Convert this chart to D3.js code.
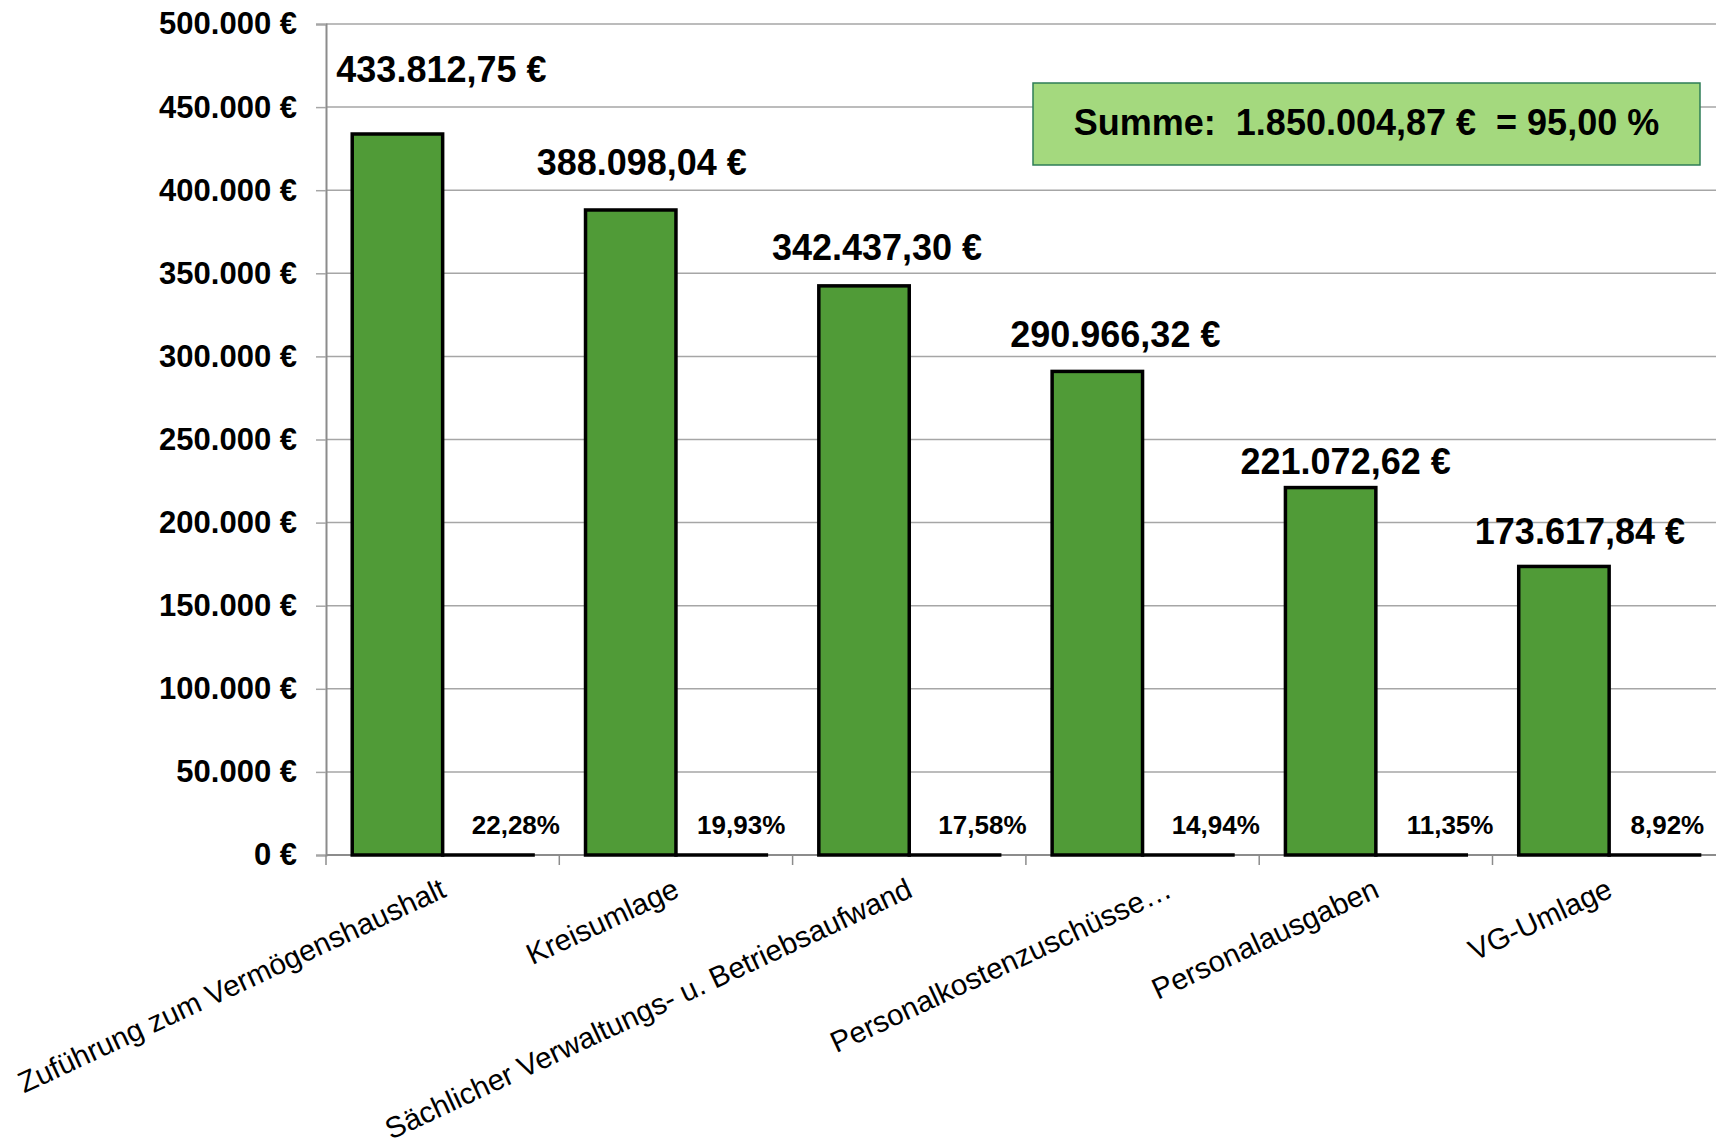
<!DOCTYPE html>
<html>
<head>
	<meta charset="utf-8">
	<title></title>
	<script src="https://d3js.org/d3.v7.min.js"></script>
	<style>
	body {margin: 0; background-color: #ffffff;}
	svg {display: block; font-family: "Liberation Sans", Arial, sans-serif;}
	</style>
</head>
<body>
	<script>

		// chart data
		var categories = ["Zuführung zum Vermögenshaushalt", "Kreisumlage", "Sächlicher Verwaltungs- u. Betriebsaufwand",
			"Personalkostenzuschüsse…", "Personalausgaben", "VG-Umlage"];
		var amounts = [433812.75, 388098.04, 342437.30, 290966.32, 221072.62, 173617.84];
		var shares = [0.2228, 0.1993, 0.1758, 0.1494, 0.1135, 0.0892];
		var yTicks = [0, 50000, 100000, 150000, 200000, 250000, 300000, 350000, 400000, 450000, 500000];

		// hand placed labels in the original (dx, dy from bar top)
		var amountNudge = [[44, 52], [11, 35], [13, 26], [18, 24], [15, 14], [16, 22]];
		var shareNudge = [28, 20, 28, 28, 29, 13];
		var catNudge = [0, 0, 0, 26, 0, 0];

		var width = 1716;
		var height = 1141;
		var plotLeft = 326, plotTop = 24, plotBottom = 855;

		var de = d3.formatLocale({decimal: ",", thousands: ".", grouping: [3], currency: ["", " €"]});
		var fmtTick = de.format("$,.0f");
		var fmtAmount = de.format("$,.2f");
		var fmtShare = de.format(".2%");

		var svg = d3.select("body")
			.append("svg")
			.attr("width", width)
			.attr("height", height);

		var x = d3.scaleBand()
			.domain(categories)
			.range([plotLeft, plotLeft + 6 * 233.3])
			.padding(0);

		var inner = d3.scaleBand()
			.domain(["amount", "share"])
			.range([0, x.bandwidth()])
			.paddingInner(0)
			.paddingOuter(0.29);

		var y = d3.scaleLinear()
			.domain([0, 500000])
			.range([plotBottom, plotTop]);

		// gridlines
		svg.append("g")
			.selectAll("line")
			.data(yTicks)
			.enter()
			.append("line")
			.attr("x1", plotLeft)
			.attr("x2", width)
			.attr("y1", d => y(d))
			.attr("y2", d => y(d))
			.attr("stroke", "#a6a6a6")
			.attr("stroke-width", 1.5);

		// y axis
		var yAxis = svg.append("g")
			.attr("transform", "translate(" + plotLeft + ",0)")
			.call(d3.axisLeft(y).tickValues(yTicks).tickFormat(fmtTick).tickSize(10).tickPadding(19));
		yAxis.select(".domain").attr("stroke", "#8c8c8c").attr("stroke-width", 2);
		yAxis.selectAll(".tick line").attr("stroke", "#a6a6a6").attr("stroke-width", 1.5);
		yAxis.selectAll(".tick text")
			.attr("font-size", 31)
			.attr("font-weight", "bold")
			.attr("fill", "#000")
			.attr("font-family", "Liberation Sans, Arial, sans-serif");

		// x axis
		var xAxis = svg.append("g")
			.attr("transform", "translate(0," + plotBottom + ")");
		xAxis.append("line")
			.attr("x1", plotLeft).attr("x2", width)
			.attr("y1", 0).attr("y2", 0)
			.attr("stroke", "#8c8c8c").attr("stroke-width", 2);
		xAxis.selectAll(".xtick")
			.data(categories)
			.enter()
			.append("line")
			.attr("class", "xtick")
			.attr("x1", d => x(d)).attr("x2", d => x(d))
			.attr("y1", 0).attr("y2", 10)
			.attr("stroke", "#8c8c8c").attr("stroke-width", 1.5);

		xAxis.selectAll(".xlabel")
			.data(categories)
			.enter()
			.append("text")
			.attr("class", "xlabel")
			.attr("transform", (d, i) => "translate(" + (x(d) + x.bandwidth() / 2 + 5 + catNudge[i]) + ",41) rotate(-25)")
			.attr("text-anchor", "end")
			.attr("font-size", 29.5)
			.attr("fill", "#000")
			.text(d => d);

		// bars
		svg.append("g")
			.selectAll("rect")
			.data(amounts)
			.enter()
			.append("rect")
			.attr("x", (d, i) => x(categories[i]) + inner("amount"))
			.attr("width", inner.bandwidth())
			.attr("y", d => y(d))
			.attr("height", d => y(0) - y(d))
			.attr("fill", "#509b37")
			.attr("stroke", "#000")
			.attr("stroke-width", 3.5);

		svg.append("g")
			.selectAll("rect")
			.data(shares)
			.enter()
			.append("rect")
			.attr("x", (d, i) => x(categories[i]) + inner("share"))
			.attr("width", inner.bandwidth())
			.attr("y", d => y(d))
			.attr("height", d => y(0) - y(d))
			.attr("fill", "#509b37")
			.attr("stroke", "#000")
			.attr("stroke-width", 3.5);

		// value labels
		svg.append("g")
			.selectAll("text")
			.data(amounts)
			.enter()
			.append("text")
			.attr("x", (d, i) => x(categories[i]) + inner("amount") + inner.bandwidth() / 2 + amountNudge[i][0])
			.attr("y", (d, i) => y(d) - amountNudge[i][1])
			.attr("text-anchor", "middle")
			.attr("font-size", 36)
			.attr("font-weight", "bold")
			.text(d => fmtAmount(d));

		svg.append("g")
			.selectAll("text")
			.data(shares)
			.enter()
			.append("text")
			.attr("x", (d, i) => x(categories[i]) + inner("share") + inner.bandwidth() / 2 + shareNudge[i])
			.attr("y", d => y(d) - 21)
			.attr("text-anchor", "middle")
			.attr("font-size", 26)
			.attr("font-weight", "bold")
			.text(d => fmtShare(d));

		// sum box
		var total = d3.sum(amounts);
		var totalShare = d3.sum(shares);
		var box = svg.append("g");
		box.append("rect")
			.attr("x", 1033)
			.attr("y", 83)
			.attr("width", 667)
			.attr("height", 82)
			.attr("fill", "#a4d97e")
			.attr("stroke", "#2e7d57")
			.attr("stroke-width", 1.5);
		box.append("text")
			.attr("x", 1033 + 667 / 2)
			.attr("y", 135)
			.attr("text-anchor", "middle")
			.attr("font-size", 36)
			.attr("font-weight", "bold")
			.style("white-space", "pre")
			.text("Summe:  " + fmtAmount(total) + "  = " + de.format(".2f")(totalShare * 100) + " %");

	</script>
</body>
</html>
